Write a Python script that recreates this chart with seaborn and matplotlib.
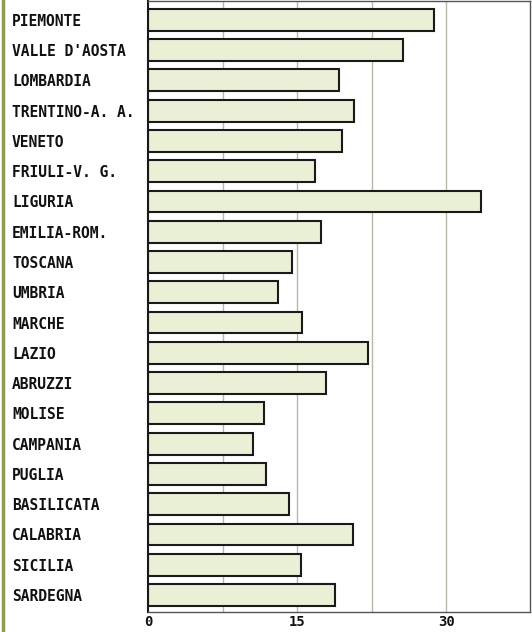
import numpy as np
import pandas as pd
import matplotlib
matplotlib.use("Agg")
import matplotlib.pyplot as plt
import seaborn as sns
from matplotlib.lines import Line2D

regions = ["PIEMONTE", "VALLE D'AOSTA", "LOMBARDIA", "TRENTINO-A. A.", "VENETO",
           "FRIULI-V. G.", "LIGURIA", "EMILIA-ROM.", "TOSCANA", "UMBRIA",
           "MARCHE", "LAZIO", "ABRUZZI", "MOLISE", "CAMPANIA",
           "PUGLIA", "BASILICATA", "CALABRIA", "SICILIA", "SARDEGNA"]
values = [28.7, 25.6, 19.2, 20.7, 19.5,
          16.8, 33.5, 17.4, 14.5, 13.1,
          15.5, 22.1, 17.9, 11.7, 10.6,
          11.9, 14.2, 20.6, 15.4, 18.8]
x_ticks = [0, 15, 30]
grid_lines = [7.5, 15, 22.5, 30]

df = pd.DataFrame({"region": regions, "value": values})

sns.set_style("white")
plt.rcParams['font.family'] = ['DejaVu Sans Mono', 'DejaVu Sans']

fig = plt.figure(figsize=(5.32, 6.32), dpi=100)
ax = fig.add_axes([148 / 532, 20 / 632, 382 / 532, 611 / 632])

for g in grid_lines:
    ax.axvline(g, color="#b8b8a8", lw=1.0, zorder=0)

sns.barplot(data=df, y="region", x="value", orient="h", ax=ax,
            color="#e9f0d6", edgecolor="#1a1a1a", linewidth=1.5,
            width=0.72, saturation=1, zorder=2)

ax.set_xlim(0, 38.4)
ax.set_ylim(19.56, -0.62)
ax.set_xlabel("")
ax.set_ylabel("")
ax.set_xticks(x_ticks)
ax.set_xticklabels([str(t) for t in x_ticks], fontsize=10, fontweight="bold",
                   color="#111111")
ax.tick_params(axis="x", length=0, pad=2)
ax.tick_params(axis="y", length=0, pad=98)
for lbl in ax.get_yticklabels():
    lbl.set_horizontalalignment("left")
    lbl.set_fontsize(10.5)
    lbl.set_fontweight("bold")
    lbl.set_color("#111111")

for side, sp in ax.spines.items():
    sp.set_visible(True)
    sp.set_color("#555555" if side != "left" else "#1a1a1a")
    sp.set_linewidth(1.0 if side != "left" else 1.5)

# green binding line of the scanned page
fig.add_artist(Line2D([3 / 532, 3 / 532], [0, 1], color="#8c9c52", lw=2.5,
                      transform=fig.transFigure))

fig.savefig("out.png", dpi=100, facecolor="white")
